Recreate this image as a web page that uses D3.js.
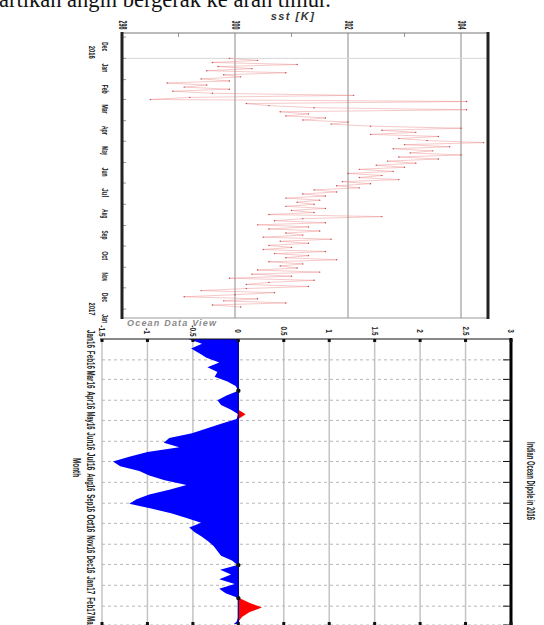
<!DOCTYPE html>
<html>
<head>
<meta charset="utf-8">
<script src="https://cdn.jsdelivr.net/npm/d3@7"></script>
<style>
  body { margin: 0; background: #fff; }
  svg { display: block; }
</style>
</head>
<body>
<svg id="fig" width="544" height="625"></svg>
<script>
// top chart: daily-ish SST (every 3 days from 1 Jan 2016)
var sstValues = [
  299.9, 300.4, 299.6, 301.1, 299.7, 300.3, 299.5, 300.9, 299.8, 300.1, 299.4,
  299.9, 298.8, 299.5, 299.1, 299.9, 298.9, 299.6, 302.1, 299.2, 298.5,
  304.1, 300.2, 300.6, 301.4, 304.1, 300.8, 301.3, 300.9, 301.6, 301.2,
  302.0, 301.7, 302.4, 304.0, 302.6, 303.2, 302.4, 303.6, 302.9, 303.4,
  304.4, 303.0, 303.8, 302.8, 303.5, 303.1, 304.0, 302.9, 303.6, 302.7,
  303.2, 302.5, 303.0, 302.2, 302.8, 302.0, 302.6, 302.2, 302.9, 301.9,
  302.4, 301.8, 302.2, 301.4, 301.8, 301.2, 301.6, 300.9, 301.5, 301.1, 301.4,
  300.9, 301.6, 301.0, 301.4, 300.6, 302.6, 301.2, 300.7, 301.6, 300.4,
  301.3, 300.6, 301.5, 300.9, 301.2, 300.5, 301.7, 300.8, 301.3, 300.6,
  301.0, 300.5, 301.6, 300.7, 301.3, 300.9, 301.8, 300.6, 301.2, 300.8,
  301.1, 300.4, 301.5, 300.3, 301.0, 299.9, 301.4, 300.6, 300.2, 301.3,
  300.2, 299.4, 300.7, 300.0, 299.1, 300.4, 299.8, 300.9, 299.6, 300.1
];
var sstTicks = [298, 300, 302, 304];
var sstMonths = ["Dec","Jan","Feb","Mar","Apr","May","Jun","Jul","Aug","Sep","Oct","Nov","Dec","Jan"];
var sstYears = ["2016", "2017"];

// bottom chart: weekly IOD index from 1 Jan 2016
var iodValues = [
  -0.55, -0.40, -0.52, -0.43, -0.35, -0.21, -0.34, -0.23, -0.26, -0.12,
  -0.03, 0.00, -0.13, -0.23, -0.19, -0.08, 0.08, -0.02, -0.19, -0.35,
  -0.51, -0.76, -0.82, -0.65, -1.00, -1.20, -1.38, -1.30, -1.09, -0.98,
  -0.81, -0.57, -0.76, -0.98, -1.12, -1.20, -0.96, -0.74, -0.57, -0.41,
  -0.54, -0.48, -0.40, -0.33, -0.27, -0.23, -0.19, -0.07, -0.01, -0.20,
  -0.08, -0.21, -0.04, -0.21, -0.14, 0.01, 0.12, 0.26, 0.12, 0.04,
  -0.02, -0.08
];
var iodTicks = [-1.5, -1, -0.5, 0, 0.5, 1, 1.5, 2, 2.5, 3];
var iodTickLabels = ["-1.5", "-1", "-0.5", "0", "0.5", "1", "1.5", "2", "2.5", "3"];
var iodMonths = ["Jan16","Feb16","Mar16","Apr16","May16","Jun16","Jul16","Aug16","Sep16","Oct16","Nov16","Dec16","Jan17","Feb17","Mar17"];

var DAY = 864e5;
var sstData = sstValues.map(function(v, i){ return {date: new Date(+new Date(2016,0,1) + i*3*DAY), v: v}; });
var iodData = iodValues.map(function(v, i){ return {date: new Date(+new Date(2016,0,1) + i*7*DAY), v: v}; });

var svg = d3.select("#fig");
var sans = "'Liberation Sans',Arial,sans-serif";

// clipped sentence from the page above the figure
svg.append("text")
    .attr("x", -1).attr("y", 7)
    .style("font-family", "'Liberation Serif','DejaVu Serif',serif")
    .style("font-size", "22.5px")
    .style("fill", "#111")
    .text("artikan angin bergerak ke arah timur.");

// rotated (top-to-bottom) label, squeezed to len px like the scanned figure
function vtext(g, x, y, str, size, len, opts){
    opts = opts || {};
    var t = g.append("text")
        .attr("transform", "translate(" + x + "," + y + ") rotate(90)")
        .attr("text-anchor", opts.anchor || "middle")
        .attr("dominant-baseline", "central")
        .style("font-family", sans)
        .style("font-size", size + "px")
        .style("font-weight", "bold")
        .style("fill", opts.fill || "#222")
        .text(str);
    if (len) t.attr("textLength", len).attr("lengthAdjust", "spacingAndGlyphs");
    return t;
}

/* ---------------- top chart: SST ---------------- */
var sstG = svg.append("g");
var xS = d3.scaleLinear().domain([298, 304]).range([122, 461]);
var yS = d3.scaleTime().domain([new Date(2015,10,25), new Date(2017,0,14)]).range([33, 318]);
var sRight = 488;

sstG.append("text")
    .attr("x", 293).attr("y", 20)
    .attr("text-anchor", "middle")
    .style("font-family", sans)
    .style("font-size", "11px")
    .style("font-weight", "bold")
    .style("font-style", "italic")
    .style("letter-spacing", "1.5px")
    .style("fill", "#333")
    .text("sst [K]");

// grid
sstG.selectAll(".vg").data(sstTicks.slice(1)).enter().append("line")
    .attr("x1", function(d){ return xS(d); }).attr("x2", function(d){ return xS(d); })
    .attr("y1", 33).attr("y2", 318)
    .style("stroke", "#8a8a8a").style("stroke-width", 1);
sstG.append("line")
    .attr("x1", 122).attr("x2", sRight)
    .attr("y1", yS(new Date(2016,0,1))).attr("y2", yS(new Date(2016,0,1)))
    .style("stroke", "#d6d6d6");

// minor ticks on top axis
sstG.selectAll(".mt").data([299, 301, 303]).enter().append("line")
    .attr("x1", function(d){ return xS(d); }).attr("x2", function(d){ return xS(d); })
    .attr("y1", 33).attr("y2", 37)
    .style("stroke", "#999");

// month ticks on the left axis
var sMonthStarts = d3.timeMonth.range(new Date(2015,11,1), new Date(2017,0,2));
sstG.selectAll(".lt").data(sMonthStarts).enter().append("line")
    .attr("x1", 122).attr("x2", 126)
    .attr("y1", function(d){ return yS(d); }).attr("y2", function(d){ return yS(d); })
    .style("stroke", "#999");

// the series
var sLine = d3.line().x(function(d){ return xS(d.v); }).y(function(d){ return yS(d.date); });
sstG.append("path").datum(sstData)
    .attr("d", sLine)
    .style("fill", "none")
    .style("stroke", "#ea7d7d")
    .style("stroke-opacity", 0.7)
    .style("stroke-width", 0.6);
sstG.selectAll(".pt").data(sstData).enter().append("circle")
    .attr("cx", function(d){ return xS(d.v); })
    .attr("cy", function(d){ return yS(d.date); })
    .attr("r", 0.7)
    .style("fill", "#b94848");

// frame
sstG.append("line").attr("x1", 122).attr("x2", sRight).attr("y1", 33).attr("y2", 33).style("stroke", "#777");
sstG.append("line").attr("x1", 122).attr("x2", sRight).attr("y1", 318).attr("y2", 318).style("stroke", "#999");
sstG.append("line").attr("x1", 122).attr("x2", 122).attr("y1", 32).attr("y2", 319).style("stroke", "#222").style("stroke-width", 3);
sstG.append("line").attr("x1", sRight).attr("x2", sRight).attr("y1", 32).attr("y2", 319).style("stroke", "#222").style("stroke-width", 3);

// tick labels
sstTicks.forEach(function(t){ vtext(sstG, xS(t), 25, String(t), 10, 9); });
sstMonths.forEach(function(m, i){
    vtext(sstG, 105, yS(new Date(2015, 11 + i, 15)), m, 9.5, 9);
});
vtext(sstG, 92, yS(new Date(2016,0,1)) - 6, sstYears[0], 9.5, 13);
vtext(sstG, 92, yS(new Date(2017,0,1)), sstYears[1], 9.5, 13);

sstG.append("text")
    .attr("x", 127).attr("y", 326)
    .style("font-family", sans)
    .style("font-size", "9px")
    .style("font-style", "italic")
    .style("font-weight", "bold")
    .style("letter-spacing", "1.2px")
    .style("fill", "#8a8a8a")
    .text("Ocean Data View");

/* ---------------- bottom chart: IOD ---------------- */
var iodG = svg.append("g");
var xI = d3.scaleLinear().domain([-1.5, 3]).range([102, 511]);
var yI = d3.scaleTime().domain([new Date(2016,0,1), new Date(2017,2,1)]).range([339, 625]);
var bTop = 339, bBot = 624;

svg.append("clipPath").attr("id", "iodclip")
    .append("rect").attr("x", 102).attr("y", bTop).attr("width", 409).attr("height", bBot - bTop);

var iMonthStarts = d3.timeMonth.range(new Date(2016,0,1), new Date(2017,2,2));

// grid
iodG.selectAll(".vg").data(iodTicks).enter().append("line")
    .attr("x1", function(d){ return xI(d); }).attr("x2", function(d){ return xI(d); })
    .attr("y1", bTop).attr("y2", bBot)
    .style("stroke", "#c4c4c4").style("stroke-width", 1.5);
iodG.selectAll(".hg").data(iMonthStarts.slice(1)).enter().append("line")
    .attr("x1", 102).attr("x2", 511)
    .attr("y1", function(d){ return yI(d); }).attr("y2", function(d){ return yI(d); })
    .style("stroke", "#b8b8b8").style("stroke-width", 1)
    .style("stroke-dasharray", "3,3");

// areas, negative blue and positive red
var areaNeg = d3.area()
    .y(function(d){ return yI(d.date); })
    .x0(xI(0))
    .x1(function(d){ return xI(Math.min(d.v, 0)); });
var areaPos = d3.area()
    .y(function(d){ return yI(d.date); })
    .x0(xI(0))
    .x1(function(d){ return xI(Math.max(d.v, 0)); });
var plot = iodG.append("g").attr("clip-path", "url(#iodclip)");
plot.append("path").datum(iodData).attr("d", areaNeg).style("fill", "#0000ff");
plot.append("path").datum(iodData).attr("d", areaPos).style("fill", "#ff0000");
plot.append("line")
    .attr("x1", xI(0)).attr("x2", xI(0)).attr("y1", bTop).attr("y2", bBot)
    .style("stroke", "#00008b").style("stroke-width", 1.2);
plot.selectAll(".zc").data(iodData.filter(function(d){ return Math.abs(d.v) < 0.015; }))
    .enter().append("circle")
    .attr("cx", xI(0)).attr("cy", function(d){ return yI(d.date); })
    .attr("r", 2.2).style("fill", "#111");

// axes
iodG.append("line").attr("x1", 100).attr("x2", 512).attr("y1", bTop).attr("y2", bTop).style("stroke", "#111");
iodG.append("line").attr("x1", 511).attr("x2", 511).attr("y1", bTop - 1).attr("y2", 625).style("stroke", "#000").style("stroke-width", 3);
iodG.selectAll(".tt").data(iodTicks).enter().append("rect")
    .attr("x", function(d){ return xI(d) - 1.5; }).attr("y", bTop).attr("width", 3).attr("height", 3)
    .style("fill", "#111");
iodG.selectAll(".bt").data(iodTicks).enter().append("rect")
    .attr("x", function(d){ return xI(d) - 1.5; }).attr("y", bBot - 2).attr("width", 3).attr("height", 3)
    .style("fill", "#111");
iodG.selectAll(".rt").data(iMonthStarts.slice(1)).enter().append("line")
    .attr("x1", 503).attr("x2", 511)
    .attr("y1", function(d){ return yI(d); }).attr("y2", function(d){ return yI(d); })
    .style("stroke", "#111");

iodTicks.forEach(function(t, i){
    vtext(iodG, xI(t), 331, iodTickLabels[i], 9, iodTickLabels[i].length * 2.6 + 1);
});
iodMonths.forEach(function(m, i){
    vtext(iodG, 90, yI(new Date(2016, i, 1)), m, 10, 18);
});
vtext(iodG, 76, yI(new Date(2016, 6, 10)), "Month", 10, 19);
vtext(iodG, 530, 442, "Indian Ocean Dipole in 2016", 10, 78, {anchor: "start"});
</script>
</body>
</html>
